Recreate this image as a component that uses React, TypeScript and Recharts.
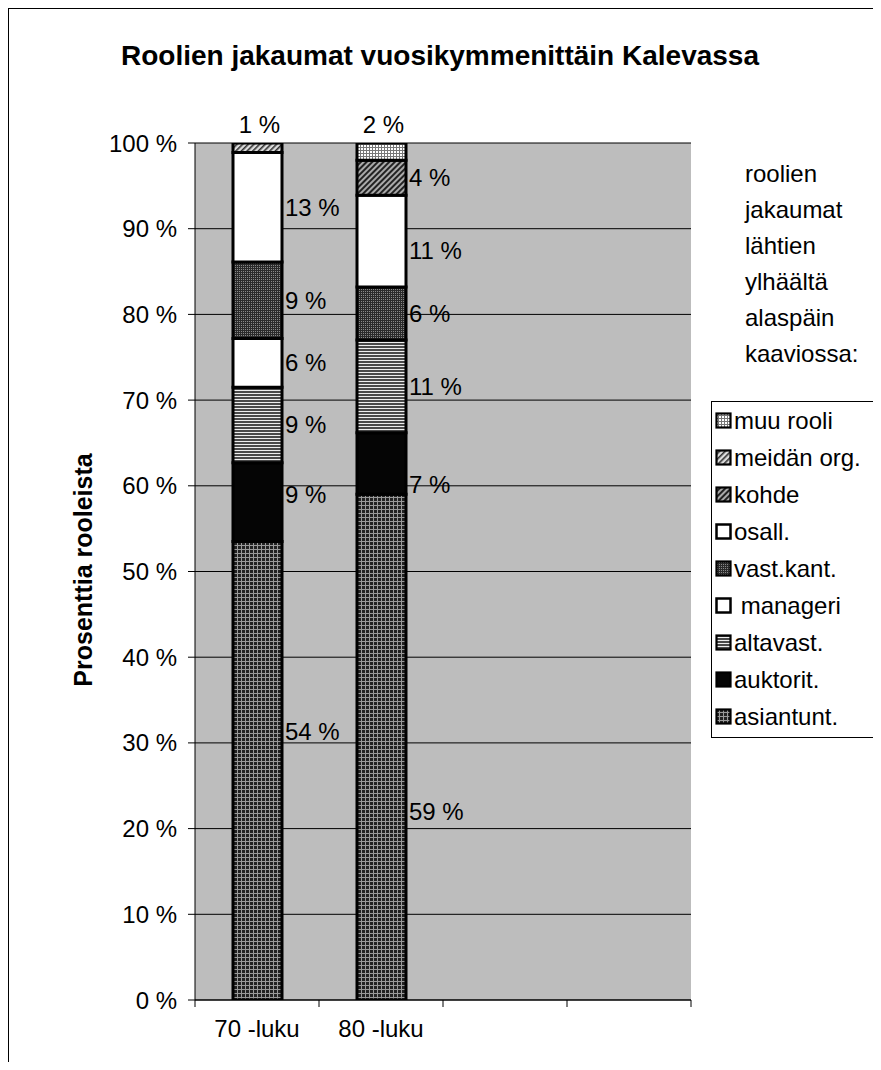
import React from "react";
import { BarChart, Bar, XAxis, YAxis, CartesianGrid, LabelList } from "recharts";

const categories = ["70 -luku", "80 -luku", "", ""];
const asiantunt = [53.5, 59.0];
const auktorit = [9.2, 7.2];
const altavast = [8.8, 10.8];
const manageri = [5.7, 0];
const vastKant = [8.9, 6.2];
const osall = [12.8, 10.7];
const kohde = [0, 4.1];
const meidanOrg = [1.1, 0];
const muuRooli = [0, 2.0];
const yTicks = [0, 10, 20, 30, 40, 50, 60, 70, 80, 90, 100];
const sideNote = ["roolien", "jakaumat", "lähtien", "ylhäältä", "alaspäin", "kaaviossa:"];

const FONT = "'Liberation Sans', Arial, Helvetica, sans-serif";

// stacking order bottom -> top
const series = [
  { key: "asiantunt", name: "asiantunt.", values: asiantunt },
  { key: "auktorit", name: "auktorit.", values: auktorit },
  { key: "altavast", name: "altavast.", values: altavast },
  { key: "manageri", name: " manageri", values: manageri },
  { key: "vastKant", name: "vast.kant.", values: vastKant },
  { key: "osall", name: "osall.", values: osall },
  { key: "kohde", name: "kohde", values: kohde },
  { key: "meidanOrg", name: "meidän org.", values: meidanOrg },
  { key: "muuRooli", name: "muu rooli", values: muuRooli },
];

const fills: Record<string, string> = {
  asiantunt: "url(#p-asiantunt)",
  auktorit: "#050505",
  altavast: "url(#p-altavast)",
  manageri: "#ffffff",
  vastKant: "url(#p-vastkant)",
  osall: "#ffffff",
  kohde: "url(#p-kohde)",
  meidanOrg: "url(#p-meidan)",
  muuRooli: "url(#p-muu)",
};

// hand placed label nudges, as in the original
const labelShift: Record<string, number> = {
  "asiantunt-0": -39,
  "asiantunt-1": 64,
  "auktorit-0": -8,
  "auktorit-1": 21,
  "osall-1": 9,
  "kohde-1": 6,
};

const rows = categories.map((c, i) => {
  const row: any = { idx: i, cat: c };
  series.forEach((s) => {
    row[s.key] = s.values[i] ?? null;
  });
  return row;
});

function Patterns() {
  return (
    <svg width="0" height="0" style={{ position: "absolute" }}>
      <defs>
        <pattern id="p-asiantunt" width="4" height="4" patternUnits="userSpaceOnUse">
          <rect width="4" height="4" fill="#222" />
          <rect width="4" height="1" fill="#999" />
          <rect width="1" height="4" fill="#999" />
        </pattern>
        <pattern id="p-altavast" width="3" height="3" patternUnits="userSpaceOnUse">
          <rect width="3" height="3" fill="#4a4a4a" />
          <rect width="3" height="1" fill="#eee" />
        </pattern>
        <pattern id="p-vastkant" width="2" height="2" patternUnits="userSpaceOnUse">
          <rect width="2" height="2" fill="#2a2a2a" />
          <rect width="1" height="1" fill="#888" />
        </pattern>
        <pattern id="p-kohde" width="4" height="4" patternUnits="userSpaceOnUse" patternTransform="rotate(45)">
          <rect width="4" height="4" fill="#aaa" />
          <rect width="2" height="4" fill="#222" />
        </pattern>
        <pattern id="p-meidan" width="4" height="4" patternUnits="userSpaceOnUse" patternTransform="rotate(45)">
          <rect width="4" height="4" fill="#ddd" />
          <rect width="1.6" height="4" fill="#333" />
        </pattern>
        <pattern id="p-muu" width="3" height="3" patternUnits="userSpaceOnUse">
          <rect width="3" height="3" fill="#fff" />
          <rect width="3" height="1" fill="#777" />
          <rect width="1" height="3" fill="#777" />
        </pattern>
      </defs>
    </svg>
  );
}

function XTick(props: any) {
  const { x, y, payload, index } = props;
  const half = 62;
  const label = categories[payload.value] ?? "";
  return (
    <g>
      <line x1={x - half} y1={y} x2={x - half} y2={y + 7} stroke="#000" />
      {index === categories.length - 1 && <line x1={x + half} y1={y} x2={x + half} y2={y + 7} stroke="#000" />}
      <text x={x} y={y + 37} textAnchor="middle" fontSize={24} fill="#000" fontFamily={FONT}>
        {label}
      </text>
    </g>
  );
}

function makeLabel(key: string) {
  return (props: any) => {
    const { x, y, width, height, value, index } = props;
    if (!value) return null;
    const txt = `${Math.round(Number(value))} %`;
    if (value < 3) {
      return (
        <text x={x + width / 2 + 2} y={y - 10} textAnchor="middle" fontSize={24} fill="#000" fontFamily={FONT}>
          {txt}
        </text>
      );
    }
    const dy = labelShift[`${key}-${index}`] ?? 0;
    return (
      <text x={x + width + 3} y={y + height / 2 + dy} dominantBaseline="central" fontSize={24} fill="#000" fontFamily={FONT}>
        {txt}
      </text>
    );
  };
}

function Swatch({ k }: { k: string }) {
  const thick = k === "manageri" || k === "osall";
  return (
    <svg width="17" height="17" style={{ flex: "none" }}>
      <rect x={1.5} y={1.5} width={14} height={14} fill={fills[k]} stroke="#000" strokeWidth={thick ? 2.5 : 2.2} />
    </svg>
  );
}

export default function App() {
  const legendItems = [...series].reverse();
  return (
    <div
      style={{
        position: "relative",
        width: 870,
        height: 1053,
        border: "1px solid #000",
        borderBottom: "none",
        fontFamily: FONT,
        background: "#fff",
      }}
    >
      <Patterns />
      <div
        style={{
          position: "absolute",
          left: 0,
          top: 31,
          width: 862,
          textAlign: "center",
          fontSize: 28,
          lineHeight: "32px",
          fontWeight: "bold",
          color: "#000",
        }}
      >
        Roolien jakaumat vuosikymmenittäin Kalevassa
      </div>
      <div style={{ position: "absolute", left: 0, top: 0 }}>
        <BarChart width={870} height={1050} data={rows} margin={{ top: 134, right: 188, left: 0, bottom: 19 }} barSize={49}>
          <CartesianGrid vertical={false} stroke="#000" strokeWidth={1} fill="#bdbdbd" fillOpacity={1} />
          <XAxis
            dataKey="idx"
            type="category"
            height={40}
            interval={0}
            axisLine={{ stroke: "#000", strokeWidth: 1 }}
            tickLine={false}
            tickSize={0}
            tickMargin={0}
            tick={<XTick />}
          />
          <YAxis
            type="number"
            domain={[0, 100]}
            allowDataOverflow
            ticks={yTicks}
            width={186}
            tickSize={7}
            tickMargin={11}
            axisLine={{ stroke: "#000", strokeWidth: 1 }}
            tickLine={{ stroke: "#000" }}
            tick={{ fill: "#000", fontSize: 24, fontFamily: FONT }}
            tickFormatter={(v) => `${v} %`}
            label={{
              content: () => (
                <text
                  x={74}
                  y={561}
                  transform="rotate(-90 74 561)"
                  textAnchor="middle"
                  dominantBaseline="central"
                  fontSize={25}
                  fontWeight="bold"
                  fill="#000"
                  fontFamily={FONT}
                >
                  Prosenttia rooleista
                </text>
              ),
            }}
          />
          {series.map((s) => (
            <Bar
              key={s.key}
              dataKey={s.key}
              name={s.name}
              stackId="a"
              fill={fills[s.key]}
              stroke="#000"
              strokeWidth={3}
              isAnimationActive={false}
            >
              <LabelList dataKey={s.key} content={makeLabel(s.key)} />
            </Bar>
          ))}
        </BarChart>
      </div>
      <div
        style={{
          position: "absolute",
          left: 736,
          top: 147,
          fontSize: 24,
          lineHeight: "36px",
          color: "#000",
        }}
      >
        {sideNote.map((l) => (
          <div key={l}>{l}</div>
        ))}
      </div>
      <div
        style={{
          position: "absolute",
          left: 702,
          top: 392,
          width: 167,
          height: 337,
          boxSizing: "border-box",
          border: "1px solid #000",
          background: "#fff",
          paddingLeft: 3,
        }}
      >
        {legendItems.map((s) => (
          <div key={s.key} style={{ display: "flex", alignItems: "center", height: 37, gap: 2 }}>
            <Swatch k={s.key} />
            <span style={{ fontSize: 24, whiteSpace: "pre", color: "#000" }}>{s.name}</span>
          </div>
        ))}
      </div>
    </div>
  );
}
